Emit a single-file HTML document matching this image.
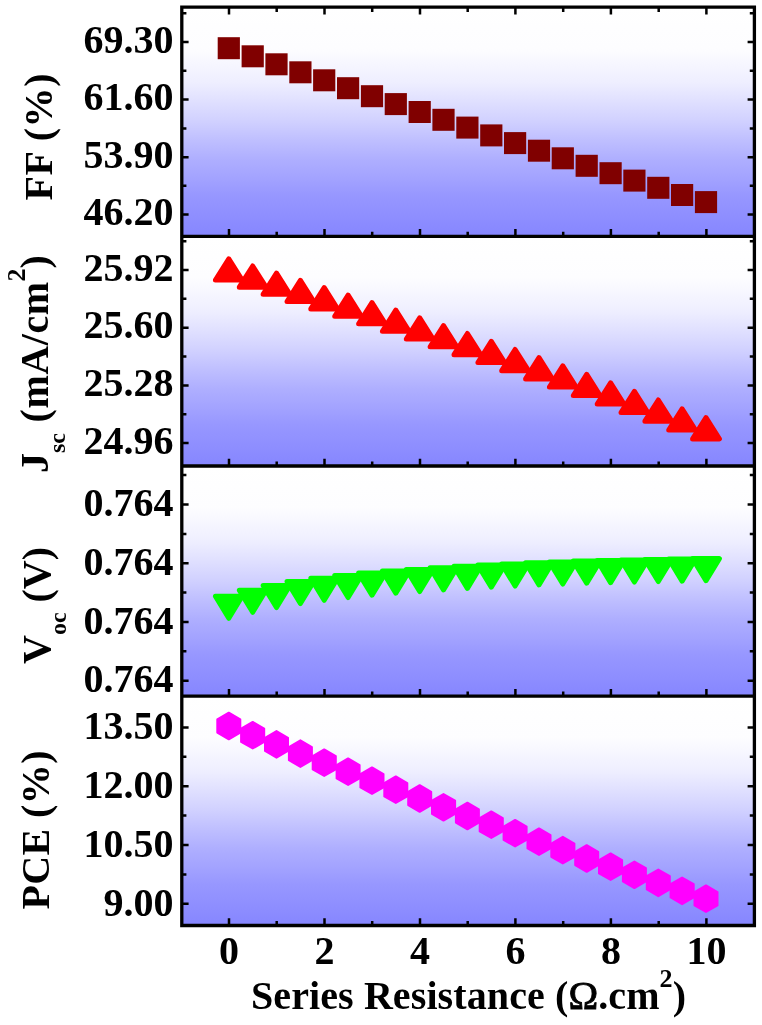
<!DOCTYPE html>
<html><head><meta charset="utf-8"><title>Series Resistance</title>
<style>
html,body{margin:0;padding:0;background:#fff;}
body{width:762px;height:1025px;overflow:hidden;}
svg{display:block;}
text{font-family:"Liberation Serif", "Times New Roman", serif;font-weight:bold;fill:#000;}
.t{font-size:40px;}
.s{font-size:26px;}
.b{font-size:24px;}
</style></head><body>
<svg width="762" height="1025" viewBox="0 0 762 1025">
<defs>
<linearGradient id="g" x1="0" y1="0" x2="0" y2="1">
<stop offset="0" stop-color="#ffffff"/>
<stop offset="0.18" stop-color="#fdfdff"/>
<stop offset="0.33" stop-color="#eeeeff"/>
<stop offset="0.405" stop-color="#e1e1ff"/>
<stop offset="0.5" stop-color="#d0d0ff"/>
<stop offset="0.58" stop-color="#bfbfff"/>
<stop offset="0.667" stop-color="#aeaeff"/>
<stop offset="0.745" stop-color="#a3a3ff"/>
<stop offset="0.82" stop-color="#9797ff"/>
<stop offset="1.0" stop-color="#8686ff"/>
</linearGradient>
</defs>
<rect x="0" y="0" width="762" height="1025" fill="#ffffff"/>

<rect x="181.8" y="7.2" width="572.6" height="229.1" fill="url(#g)"/>
<rect x="181.8" y="236.3" width="572.6" height="229.7" fill="url(#g)"/>
<rect x="181.8" y="466.0" width="572.6" height="230.1" fill="url(#g)"/>
<rect x="181.8" y="696.1" width="572.6" height="229.4" fill="url(#g)"/>
<g fill="#800000">
<rect x="217.7" y="37.2" width="22.2" height="22"/>
<rect x="241.6" y="45.3" width="22.2" height="22"/>
<rect x="265.4" y="53.3" width="22.2" height="22"/>
<rect x="289.3" y="61.3" width="22.2" height="22"/>
<rect x="313.1" y="69.3" width="22.2" height="22"/>
<rect x="337.0" y="77.2" width="22.2" height="22"/>
<rect x="360.9" y="85.2" width="22.2" height="22"/>
<rect x="384.7" y="93.1" width="22.2" height="22"/>
<rect x="408.6" y="101.0" width="22.2" height="22"/>
<rect x="432.4" y="108.8" width="22.2" height="22"/>
<rect x="456.3" y="116.6" width="22.2" height="22"/>
<rect x="480.2" y="124.4" width="22.2" height="22"/>
<rect x="504.0" y="132.1" width="22.2" height="22"/>
<rect x="527.9" y="139.7" width="22.2" height="22"/>
<rect x="551.7" y="147.3" width="22.2" height="22"/>
<rect x="575.6" y="154.8" width="22.2" height="22"/>
<rect x="599.5" y="162.2" width="22.2" height="22"/>
<rect x="623.3" y="169.6" width="22.2" height="22"/>
<rect x="647.2" y="176.8" width="22.2" height="22"/>
<rect x="671.0" y="184.0" width="22.2" height="22"/>
<rect x="694.9" y="191.1" width="22.2" height="22"/>
</g>
<g fill="#ff0000" stroke="#ff0000" stroke-width="5" stroke-linejoin="round">
<path d="M228.8 258.9L242.2 280.1L215.4 280.1Z"/>
<path d="M252.7 266.0L266.1 287.2L239.3 287.2Z"/>
<path d="M276.5 273.1L289.9 294.3L263.1 294.3Z"/>
<path d="M300.4 280.3L313.8 301.5L287.0 301.5Z"/>
<path d="M324.2 287.7L337.6 308.9L310.8 308.9Z"/>
<path d="M348.1 295.1L361.5 316.3L334.7 316.3Z"/>
<path d="M372.0 302.6L385.4 323.8L358.6 323.8Z"/>
<path d="M395.8 310.1L409.2 331.3L382.4 331.3Z"/>
<path d="M419.7 317.8L433.1 339.0L406.3 339.0Z"/>
<path d="M443.5 325.6L456.9 346.8L430.1 346.8Z"/>
<path d="M467.4 333.5L480.8 354.7L454.0 354.7Z"/>
<path d="M491.3 341.4L504.7 362.6L477.9 362.6Z"/>
<path d="M515.1 349.5L528.5 370.7L501.7 370.7Z"/>
<path d="M539.0 357.7L552.4 378.9L525.6 378.9Z"/>
<path d="M562.8 365.9L576.2 387.1L549.4 387.1Z"/>
<path d="M586.7 374.3L600.1 395.5L573.3 395.5Z"/>
<path d="M610.6 382.8L624.0 404.0L597.2 404.0Z"/>
<path d="M634.4 391.3L647.8 412.5L621.0 412.5Z"/>
<path d="M658.3 400.0L671.7 421.2L644.9 421.2Z"/>
<path d="M682.1 408.8L695.5 430.0L668.7 430.0Z"/>
<path d="M706.0 417.7L719.4 438.9L692.6 438.9Z"/>
</g>
<g fill="#00ff00" stroke="#00ff00" stroke-width="5" stroke-linejoin="round">
<path d="M228.8 618.3L242.2 596.2L215.4 596.2Z"/>
<path d="M252.7 612.3L266.1 590.2L239.3 590.2Z"/>
<path d="M276.5 607.5L289.9 585.4L263.1 585.4Z"/>
<path d="M300.4 603.5L313.8 581.4L287.0 581.4Z"/>
<path d="M324.2 600.3L337.6 578.2L310.8 578.2Z"/>
<path d="M348.1 597.5L361.5 575.4L334.7 575.4Z"/>
<path d="M372.0 595.2L385.4 573.1L358.6 573.1Z"/>
<path d="M395.8 593.2L409.2 571.1L382.4 571.1Z"/>
<path d="M419.7 591.5L433.1 569.4L406.3 569.4Z"/>
<path d="M443.5 589.9L456.9 567.8L430.1 567.8Z"/>
<path d="M467.4 588.4L480.8 566.3L454.0 566.3Z"/>
<path d="M491.3 587.2L504.7 565.1L477.9 565.1Z"/>
<path d="M515.1 586.0L528.5 563.9L501.7 563.9Z"/>
<path d="M539.0 584.9L552.4 562.8L525.6 562.8Z"/>
<path d="M562.8 584.0L576.2 561.9L549.4 561.9Z"/>
<path d="M586.7 583.2L600.1 561.1L573.3 561.1Z"/>
<path d="M610.6 582.6L624.0 560.5L597.2 560.5Z"/>
<path d="M634.4 582.0L647.8 559.9L621.0 559.9Z"/>
<path d="M658.3 581.5L671.7 559.4L644.9 559.4Z"/>
<path d="M682.1 581.1L695.5 559.0L668.7 559.0Z"/>
<path d="M706.0 580.7L719.4 558.6L692.6 558.6Z"/>
</g>
<g fill="#ff00ff" stroke="#ff00ff" stroke-width="2" stroke-linejoin="round">
<polygon points="228.8,712.7 240.3,719.4 240.3,732.6 228.8,739.3 217.3,732.6 217.3,719.4"/>
<polygon points="252.7,721.9 264.2,728.6 264.2,741.9 252.7,748.5 241.1,741.9 241.1,728.6"/>
<polygon points="276.5,731.1 288.0,737.8 288.0,751.0 276.5,757.7 265.0,751.0 265.0,737.8"/>
<polygon points="300.4,740.3 311.9,747.0 311.9,760.2 300.4,766.9 288.9,760.2 288.9,747.0"/>
<polygon points="324.2,749.4 335.8,756.1 335.8,769.4 324.2,776.0 312.7,769.4 312.7,756.1"/>
<polygon points="348.1,758.4 359.6,765.1 359.6,778.4 348.1,785.0 336.6,778.4 336.6,765.1"/>
<polygon points="372.0,767.4 383.5,774.1 383.5,787.4 372.0,794.0 360.4,787.4 360.4,774.1"/>
<polygon points="395.8,776.4 407.3,783.1 407.3,796.4 395.8,803.0 384.3,796.4 384.3,783.1"/>
<polygon points="419.7,785.2 431.2,791.9 431.2,805.1 419.7,811.8 408.2,805.1 408.2,791.9"/>
<polygon points="443.5,794.0 455.1,800.6 455.1,813.9 443.5,820.6 432.0,813.9 432.0,800.6"/>
<polygon points="467.4,802.7 478.9,809.4 478.9,822.6 467.4,829.3 455.9,822.6 455.9,809.4"/>
<polygon points="491.3,811.4 502.8,818.1 502.8,831.4 491.3,838.0 479.7,831.4 479.7,818.1"/>
<polygon points="515.1,819.9 526.6,826.6 526.6,839.9 515.1,846.5 503.6,839.9 503.6,826.6"/>
<polygon points="539.0,828.4 550.5,835.1 550.5,848.4 539.0,855.0 527.5,848.4 527.5,835.1"/>
<polygon points="562.8,836.8 574.4,843.5 574.4,856.8 562.8,863.4 551.3,856.8 551.3,843.5"/>
<polygon points="586.7,845.2 598.2,851.9 598.2,865.1 586.7,871.8 575.2,865.1 575.2,851.9"/>
<polygon points="610.6,853.4 622.1,860.1 622.1,873.4 610.6,880.0 599.0,873.4 599.0,860.1"/>
<polygon points="634.4,861.5 645.9,868.1 645.9,881.4 634.4,888.1 622.9,881.4 622.9,868.1"/>
<polygon points="658.3,869.6 669.8,876.2 669.8,889.5 658.3,896.2 646.8,889.5 646.8,876.2"/>
<polygon points="682.1,877.6 693.7,884.2 693.7,897.5 682.1,904.2 670.6,897.5 670.6,884.2"/>
<polygon points="706.0,885.4 717.5,892.1 717.5,905.4 706.0,912.0 694.5,905.4 694.5,892.1"/>
</g>
<path d="M181.8 42.0h6.8M754.4 42.0h-6.8M181.8 13.2h4.6M754.4 13.2h-4.6M181.8 99.6h6.8M754.4 99.6h-6.8M181.8 70.8h4.6M754.4 70.8h-4.6M181.8 157.2h6.8M754.4 157.2h-6.8M181.8 128.4h4.6M754.4 128.4h-4.6M181.8 214.6h6.8M754.4 214.6h-6.8M181.8 185.8h4.6M754.4 185.8h-4.6M229.0 236.3v-7.2M276.7 236.3v-4.6M324.5 236.3v-7.2M372.2 236.3v-4.6M420.0 236.3v-7.2M467.7 236.3v-4.6M515.4 236.3v-7.2M563.2 236.3v-4.6M610.9 236.3v-7.2M658.7 236.3v-4.6M706.4 236.3v-7.2M181.8 270.0h6.8M754.4 270.0h-6.8M181.8 241.2h4.6M754.4 241.2h-4.6M181.8 327.7h6.8M754.4 327.7h-6.8M181.8 298.8h4.6M754.4 298.8h-4.6M181.8 385.4h6.8M754.4 385.4h-6.8M181.8 356.5h4.6M754.4 356.5h-4.6M181.8 443.1h6.8M754.4 443.1h-6.8M181.8 414.2h4.6M754.4 414.2h-4.6M229.0 466.0v-7.2M276.7 466.0v-4.6M324.5 466.0v-7.2M372.2 466.0v-4.6M420.0 466.0v-7.2M467.7 466.0v-4.6M515.4 466.0v-7.2M563.2 466.0v-4.6M610.9 466.0v-7.2M658.7 466.0v-4.6M706.4 466.0v-7.2M181.8 504.5h6.8M754.4 504.5h-6.8M181.8 475.1h4.6M754.4 475.1h-4.6M181.8 563.3h6.8M754.4 563.3h-6.8M181.8 533.9h4.6M754.4 533.9h-4.6M181.8 622.0h6.8M754.4 622.0h-6.8M181.8 592.6h4.6M754.4 592.6h-4.6M181.8 680.7h6.8M754.4 680.7h-6.8M181.8 651.3h4.6M754.4 651.3h-4.6M229.0 696.1v-7.2M276.7 696.1v-4.6M324.5 696.1v-7.2M372.2 696.1v-4.6M420.0 696.1v-7.2M467.7 696.1v-4.6M515.4 696.1v-7.2M563.2 696.1v-4.6M610.9 696.1v-7.2M658.7 696.1v-4.6M706.4 696.1v-7.2M181.8 727.5h6.8M754.4 727.5h-6.8M181.8 786.2h6.8M754.4 786.2h-6.8M181.8 756.8h4.6M754.4 756.8h-4.6M181.8 845.0h6.8M754.4 845.0h-6.8M181.8 815.6h4.6M754.4 815.6h-4.6M181.8 903.8h6.8M754.4 903.8h-6.8M181.8 874.4h4.6M754.4 874.4h-4.6M229.0 925.5v-7.2M276.7 925.5v-4.6M324.5 925.5v-7.2M372.2 925.5v-4.6M420.0 925.5v-7.2M467.7 925.5v-4.6M515.4 925.5v-7.2M563.2 925.5v-4.6M610.9 925.5v-7.2M658.7 925.5v-4.6M706.4 925.5v-7.2M229.0 7.2v7.2M276.7 7.2v4.8M324.5 7.2v7.2M372.2 7.2v4.8M420.0 7.2v7.2M467.7 7.2v4.8M515.4 7.2v7.2M563.2 7.2v4.8M610.9 7.2v7.2M658.7 7.2v4.8M706.4 7.2v7.2" stroke="#000" stroke-width="2.5" fill="none"/>
<path d="M181.8 7.2H754.4V925.5H181.8ZM181.8 236.3H754.4M181.8 466.0H754.4M181.8 696.1H754.4" stroke="#000" stroke-width="3.3" fill="none" stroke-linejoin="miter"/>
<text class="t" x="173.5" y="52.5" text-anchor="end">69.30</text>
<text class="t" x="173.5" y="110.1" text-anchor="end">61.60</text>
<text class="t" x="173.5" y="167.7" text-anchor="end">53.90</text>
<text class="t" x="173.5" y="225.1" text-anchor="end">46.20</text>
<text class="t" x="173.5" y="280.5" text-anchor="end">25.92</text>
<text class="t" x="173.5" y="338.2" text-anchor="end">25.60</text>
<text class="t" x="173.5" y="395.9" text-anchor="end">25.28</text>
<text class="t" x="173.5" y="453.6" text-anchor="end">24.96</text>
<text class="t" x="173.5" y="516.2" text-anchor="end">0.764</text>
<text class="t" x="173.5" y="575.0" text-anchor="end">0.764</text>
<text class="t" x="173.5" y="633.7" text-anchor="end">0.764</text>
<text class="t" x="173.5" y="692.4" text-anchor="end">0.764</text>
<text class="t" x="173.5" y="739.2" text-anchor="end">13.50</text>
<text class="t" x="173.5" y="797.9" text-anchor="end">12.00</text>
<text class="t" x="173.5" y="856.7" text-anchor="end">10.50</text>
<text class="t" x="173.5" y="915.5" text-anchor="end">9.00</text>
<text class="t" x="229.0" y="963.6" text-anchor="middle">0</text>
<text class="t" x="324.5" y="963.6" text-anchor="middle">2</text>
<text class="t" x="420.0" y="963.6" text-anchor="middle">4</text>
<text class="t" x="515.4" y="963.6" text-anchor="middle">6</text>
<text class="t" x="610.9" y="963.6" text-anchor="middle">8</text>
<text class="t" x="706.4" y="963.6" text-anchor="middle">10</text>
<text class="t" x="251" y="1008.8" letter-spacing="0.1">Series Resistance (<tspan font-weight="normal" stroke="#000" stroke-width="0.9">Ω</tspan>.cm<tspan class="s" dy="-22">2</tspan><tspan dy="22">)</tspan></text>
<text class="t" transform="translate(52.4 200.5) rotate(-90)" textLength="127" lengthAdjust="spacing">FF (%)</text>
<text class="t" transform="translate(48 473) rotate(-90)">J<tspan class="b" dy="17">sc</tspan><tspan dy="-17" letter-spacing="0.55"> (mA/cm</tspan><tspan class="s" dy="-22.8">2</tspan><tspan dy="22.8">)</tspan></text>
<text class="t" transform="translate(50 664) rotate(-90)">V<tspan class="b" dy="16">oc</tspan><tspan dy="-16"> (V)</tspan></text>
<text class="t" transform="translate(48.9 909.5) rotate(-90)" textLength="159" lengthAdjust="spacing">PCE (%)</text>
</svg></body></html>
